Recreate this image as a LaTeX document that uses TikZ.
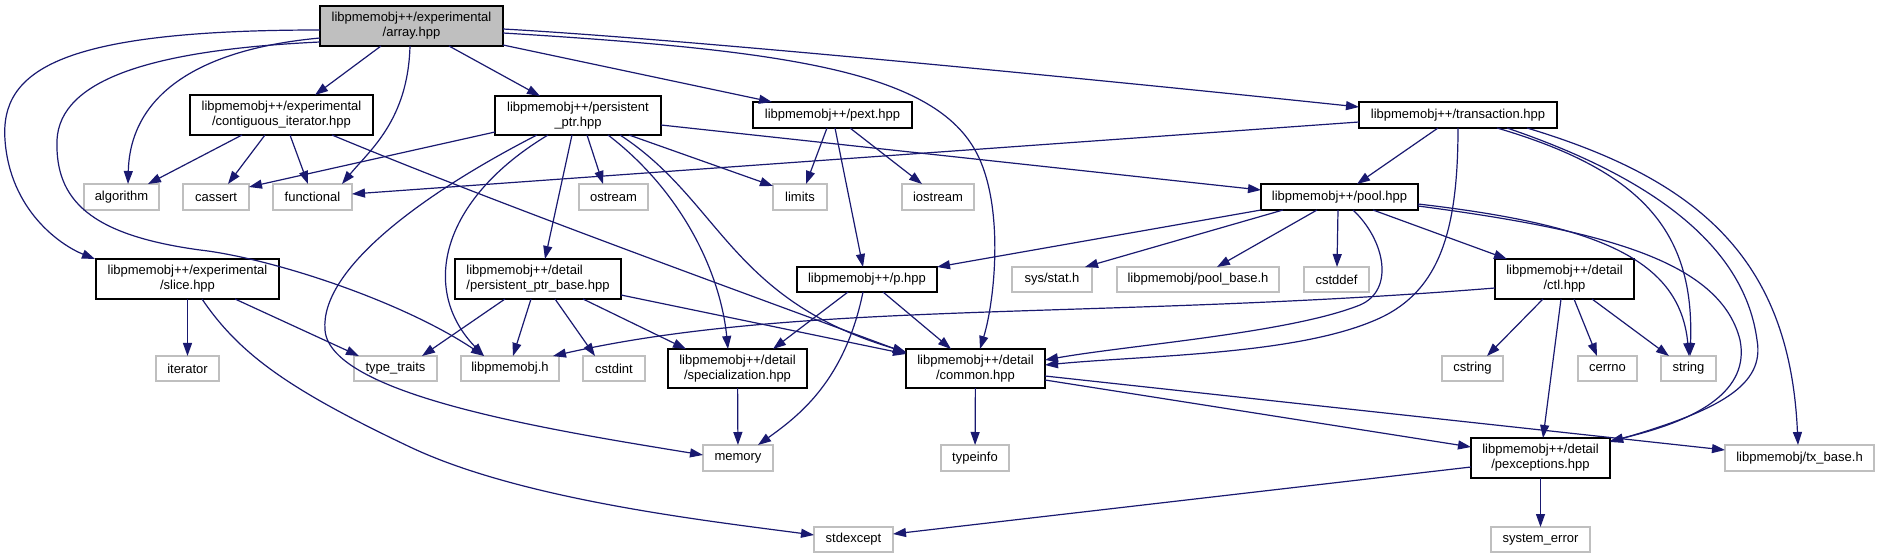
\documentclass[tikz,border=0pt]{standalone}
\usepackage{fontspec}
\setmainfont{Liberation Sans}
\usetikzlibrary{arrows.meta}
\definecolor{edgec}{RGB}{25,25,112}
\definecolor{grayb}{RGB}{191,191,191}
\definecolor{rootf}{RGB}{191,191,191}
\begin{document}
\begin{tikzpicture}[x=1bp,y=-1bp,
 every node/.style={font=\fontsize{13bp}{15bp}\selectfont, inner sep=0pt, outer sep=0pt, align=center},
 sz/.style 2 args={minimum width=#1bp, minimum height=#2bp},
 doc/.style={draw=black, line width=1.5bp},
 ext/.style={draw=grayb, line width=1.5bp},
 root/.style={draw=black, fill=rootf, line width=1.5bp},
 dep/.style={draw=edgec, line width=1.2bp, -{Triangle[length=13bp,width=9bp]}},
]
\useasboundingbox (0,0) rectangle (1879,559);
\fill[white] (0,0) rectangle (1879,559);
% nodes
\node[root, sz={183}{40}] (arr) at (411.5,26) {libpmemobj++/experimental\\/array.hpp};
\node[doc, sz={183}{40}] (cont) at (281.5,115) {libpmemobj++/experimental\\/contiguous\_iterator.hpp};
\node[doc, sz={166}{39}] (pptr) at (578,115.5) {libpmemobj++/persistent\\\_ptr.hpp};
\node[doc, sz={159}{26}] (pext) at (832.5,115) {libpmemobj++/pext.hpp};
\node[doc, sz={198}{26}] (tx) at (1458,115) {libpmemobj++/transaction.hpp};
\node[ext, sz={75}{26}] (alg) at (121.5,197) {algorithm};
\node[ext, sz={66}{26}] (cas) at (216,197) {cassert};
\node[ext, sz={79}{26}] (fun) at (312.5,197) {functional};
\node[ext, sz={69}{26}] (ost) at (613.5,197) {ostream};
\node[ext, sz={54}{26}] (lim) at (800,197) {limits};
\node[ext, sz={72}{26}] (ios) at (938,197) {iostream};
\node[doc, sz={157}{26}] (pool) at (1339.5,197) {libpmemobj++/pool.hpp};
\node[doc, sz={183}{40}] (slice) at (187.5,279) {libpmemobj++/experimental\\/slice.hpp};
\node[ext, sz={63}{25}] (iter) at (187.5,368.5) {iterator};
\node[doc, sz={166}{40}, align=left] (base) at (538,279) {libpmemobj++/detail\\/persistent\_ptr\_base.hpp};
\node[ext, sz={83}{25}] (tt) at (395.5,368.5) {type\_traits};
\node[ext, sz={98}{25}] (lpo) at (510,368.5) {libpmemobj.h};
\node[ext, sz={62}{25}] (cint) at (614,368.5) {cstdint};
\node[doc, sz={140}{25}] (p) at (867,279.5) {libpmemobj++/p.hpp};
\node[ext, sz={80}{25}] (stat) at (1052,279.5) {sys/stat.h};
\node[ext, sz={162}{25}] (pbase) at (1198,279.5) {libpmemobj/pool\_base.h};
\node[ext, sz={65}{25}] (cdef) at (1336.5,279.5) {cstddef};
\node[doc, sz={139}{40}] (ctl) at (1564.5,279) {libpmemobj++/detail\\/ctl.hpp};
\node[doc, sz={139}{39}] (spec) at (737.5,368.5) {libpmemobj++/detail\\/specialization.hpp};
\node[doc, sz={139}{39}] (com) at (975.5,368.5) {libpmemobj++/detail\\/common.hpp};
\node[ext, sz={61}{25}] (cstr) at (1472.5,368.5) {cstring};
\node[ext, sz={59}{25}] (cerr) at (1607.5,368.5) {cerrno};
\node[ext, sz={55}{25}] (str) at (1688.5,368.5) {string};
\node[ext, sz={70}{26}] (mem) at (738,458) {memory};
\node[ext, sz={68}{26}] (tinfo) at (975,458) {typeinfo};
\node[doc, sz={139}{40}] (pexc) at (1540.5,458) {libpmemobj++/detail\\/pexceptions.hpp};
\node[ext, sz={149}{26}] (txb) at (1799.5,458) {libpmemobj/tx\_base.h};
\node[ext, sz={79}{25}] (sexc) at (853.5,539.5) {stdexcept};
\node[ext, sz={99}{25}] (syserr) at (1540.5,539.5) {system\_error};
% edges from array.hpp
\draw[dep] ([shift={(61,40)}]arr.north west) -- ([shift={(125,0)}]cont.north west);
\draw[dep] ([shift={(129,40)}]arr.north west) -- ([shift={(45,0)}]pptr.north west);
\draw[dep] ([shift={(183,39)}]arr.north west) -- ([shift={(19,0)}]pext.north west);
\draw[dep] ([shift={(183,23)}]arr.north west) .. controls (700,40) and (1150,85) .. ([shift={(0,5)}]tx.north west);
\draw[dep] ([shift={(183,27)}]arr.north west) .. controls (780,50) and (930,70) .. (975,150) .. controls (1005,203) and (995,300) .. ([shift={(74,0)}]com.north west);
\draw[dep] ([shift={(0,32)}]arr.north west) .. controls (190,50) and (130,100) .. ([shift={(44,0)}]alg.north west);
\draw[dep] ([shift={(0,24)}]arr.north west) .. controls (60,30) and (0,70) .. (5,140) .. controls (10,210) and (60,245) .. ([shift={(-1,0)}]slice.north west);
\draw[dep] ([shift={(0,36)}]arr.north west) .. controls (150,50) and (60,80) .. (57,140) .. controls (55,200) and (90,235) .. (200,250) .. controls (270,258) and (400,300) .. ([shift={(23,0)}]lpo.north west);
\draw[dep] ([shift={(90,40)}]arr.north west) .. controls (408,120) and (370,150) .. ([shift={(69,0)}]fun.north west);
% contiguous_iterator
\draw[dep] ([shift={(52,40)}]cont.north west) -- ([shift={(64,0)}]alg.north west);
\draw[dep] ([shift={(75,40)}]cont.north west) -- ([shift={(45,0)}]cas.north west);
\draw[dep] ([shift={(100,40)}]cont.north west) -- ([shift={(35,0)}]fun.north west);
\draw[dep] ([shift={(142,40)}]cont.north west) .. controls (500,205) and (750,295) .. ([shift={(0,4)}]com.north west);
% persistent_ptr
\draw[dep] ([shift={(0,36)}]pptr.north west) -- ([shift={(66,3)}]cas.north west);
\draw[dep] ([shift={(92,39)}]pptr.north west) -- ([shift={(24,0)}]ost.north west);
\draw[dep] ([shift={(134,39)}]pptr.north west) -- ([shift={(0,2)}]lim.north west);
\draw[dep] ([shift={(166,29)}]pptr.north west) -- ([shift={(0,6)}]pool.north west);
\draw[dep] ([shift={(42,39)}]pptr.north west) .. controls (420,195) and (320,270) .. (325,330) .. controls (330,395) and (550,430) .. ([shift={(0,10)}]mem.north west);
\draw[dep] ([shift={(53,39)}]pptr.north west) .. controls (440,200) and (420,290) .. ([shift={(23,0)}]lpo.north west);
\draw[dep] ([shift={(77,39)}]pptr.north west) -- ([shift={(90,0)}]base.north west);
\draw[dep] ([shift={(113,39)}]pptr.north west) .. controls (680,190) and (720,270) .. ([shift={(60,0)}]spec.north west);
\draw[dep] ([shift={(125,39)}]pptr.north west) .. controls (720,200) and (730,300) .. ([shift={(0,3)}]com.north west);
% pext
\draw[dep] ([shift={(74,26)}]pext.north west) -- ([shift={(33,0)}]lim.north west);
\draw[dep] ([shift={(97,26)}]pext.north west) -- ([shift={(20,0)}]ios.north west);
\draw[dep] ([shift={(82,26)}]pext.north west) -- ([shift={(66,0)}]p.north west);
% transaction
\draw[dep] ([shift={(0,20)}]tx.north west) -- ([shift={(79,10)}]fun.north west);
\draw[dep] ([shift={(79,26)}]tx.north west) -- ([shift={(96,0)}]pool.north west);
\draw[dep] ([shift={(99,26)}]tx.north west) .. controls (1458,230) and (1440,290) .. (1380,318) .. controls (1300,355) and (1150,355) .. ([shift={(139,16)}]com.north west);
\draw[dep] ([shift={(138,26)}]tx.north west) .. controls (1640,170) and (1695,230) .. ([shift={(29,0)}]str.north west);
\draw[dep] ([shift={(148,26)}]tx.north west) .. controls (1660,180) and (1745,250) .. (1757,340) .. controls (1765,385) and (1720,410) .. ([shift={(139,4)}]pexc.north west);
\draw[dep] ([shift={(168,26)}]tx.north west) .. controls (1700,180) and (1790,260) .. ([shift={(73,0)}]txb.north west);
% pool
\draw[dep] (pool.south west) -- (p.north east);
\draw[dep] ([shift={(22,26)}]pool.north west) -- ([shift={(73,0)}]stat.north west);
\draw[dep] ([shift={(56,26)}]pool.north west) -- ([shift={(100,0)}]pbase.north west);
\draw[dep] ([shift={(77,26)}]pool.north west) -- ([shift={(33,0)}]cdef.north west);
\draw[dep] ([shift={(112,26)}]pool.north west) -- ([shift={(12,0)}]ctl.north west);
\draw[dep] ([shift={(92,26)}]pool.north west) .. controls (1385,240) and (1395,290) .. (1360,305) .. controls (1290,333) and (1130,345) .. ([shift={(139,11)}]com.north west);
\draw[dep] ([shift={(157,20)}]pool.north west) .. controls (1600,225) and (1680,260) .. ([shift={(28,0)}]str.north west);
\draw[dep] ([shift={(157,22)}]pool.north west) .. controls (1600,230) and (1720,260) .. (1740,340) .. controls (1750,390) and (1700,420) .. ([shift={(139,3)}]pexc.north west);
% slice
\draw[dep] (slice) -- (iter);
\draw[dep] ([shift={(139,40)}]slice.north west) -- ([shift={(5,0)}]tt.north west);
\draw[dep] ([shift={(106,40)}]slice.north west) .. controls (240,355) and (290,390) .. (410,447) .. controls (520,499) and (700,520) .. ([shift={(0,8)}]sexc.north west);
% persistent_ptr_base
\draw[dep] ([shift={(50,40)}]base.north west) -- ([shift={(68,0)}]tt.north west);
\draw[dep] ([shift={(76,40)}]base.north west) -- ([shift={(52,0)}]lpo.north west);
\draw[dep] ([shift={(100,40)}]base.north west) -- ([shift={(12,0)}]cint.north west);
\draw[dep] ([shift={(128,40)}]base.north west) -- ([shift={(18,0)}]spec.north west);
\draw[dep] ([shift={(166,36)}]base.north west) -- ([shift={(0,5)}]com.north west);
% p.hpp
\draw[dep] ([shift={(51,25)}]p.north west) -- ([shift={(105,0)}]spec.north west);
\draw[dep] ([shift={(66,25)}]p.north west) .. controls (845,380) and (800,415) .. ([shift={(55,0)}]mem.north west);
\draw[dep] ([shift={(86,25)}]p.north west) -- ([shift={(45,0)}]com.north west);
% others
\draw[dep] (spec) -- (mem);
\draw[dep] (com) -- (tinfo);
\draw[dep] ([shift={(139,31)}]com.north west) -- ([shift={(0,9)}]pexc.north west);
\draw[dep] ([shift={(139,27)}]com.north west) -- ([shift={(0,5)}]txb.north west);
\draw[dep] ([shift={(0,29)}]pexc.north west) -- ([shift={(79,7)}]sexc.north west);
\draw[dep] (pexc) -- (syserr);
% ctl
\draw[dep] ([shift={(0,29)}]ctl.north west) .. controls (1100,320) and (800,300) .. ([shift={(92,0)}]lpo.north west);
\draw[dep] ([shift={(48,40)}]ctl.north west) -- ([shift={(45,0)}]cstr.north west);
\draw[dep] ([shift={(79,40)}]ctl.north west) -- ([shift={(19,0)}]cerr.north west);
\draw[dep] ([shift={(97,40)}]ctl.north west) -- ([shift={(8,0)}]str.north west);
\draw[dep] ([shift={(66,40)}]ctl.north west) -- ([shift={(72,0)}]pexc.north west);
\end{tikzpicture}
\end{document}
